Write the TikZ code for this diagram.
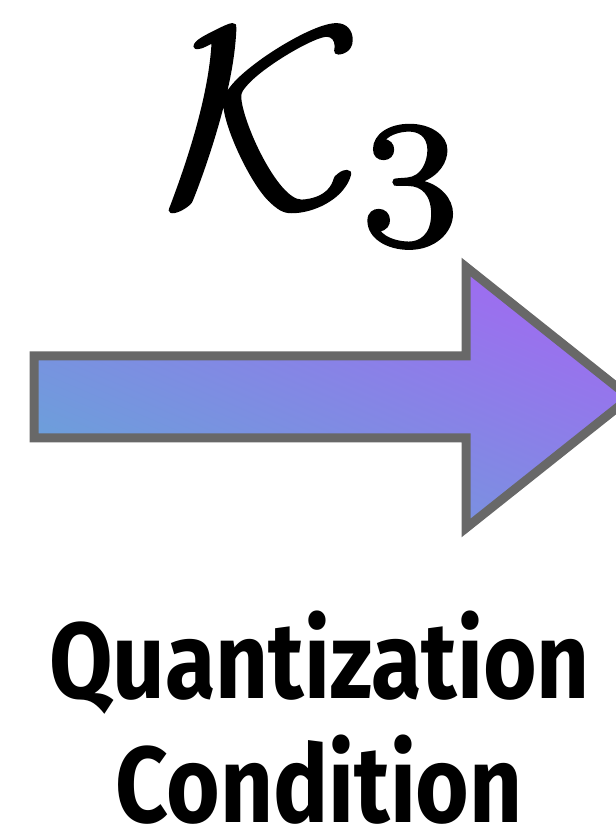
\documentclass[tikz,border=0pt]{standalone}
\usepackage{fontspec}
\setsansfont{Fira Sans}
\usepackage{tikz}
\definecolor{arrowgray}{RGB}{104,104,104}
\definecolor{leftblue}{RGB}{107,160,218}
\definecolor{rightviolet}{RGB}{158,108,240}
\pgfdeclareverticalshading{arrowshade}{100bp}{color(0bp)=(leftblue); color(40bp)=(leftblue); color(60bp)=(rightviolet); color(100bp)=(rightviolet)}
\newcommand{\labelfont}{\fontsize{108}{120}\selectfont\sffamily\bfseries}
\newcommand{\arrowpath}{(SB)--(SL)--(466,475)--(HT)--(T)--(HB)--(466,393)--cycle}
\newlength{\qwidth}
\settowidth{\qwidth}{\labelfont Quantization}
\tikzset{label text/.style={font=\labelfont,anchor=base,inner sep=0pt}}
\begin{document}
\begin{tikzpicture}[x=1pt,y=1pt,line join=miter]
  \pgfmathsetmacro{\qscale}{541/\qwidth}
  \useasboundingbox (0,0) rectangle (616,831);
  \clip (0,0) rectangle (616,831);
  % arrow outline
  \coordinate (SL) at (34,475); \coordinate (SB) at (34,393);
  \coordinate (HT) at (466,564); \coordinate (HB) at (466,303);
  \coordinate (T) at (630,433.5);
  \begin{scope}
    \clip \arrowpath;
    \shade[shading=arrowshade,shading angle=-23] (-87.5,25.5) rectangle (747.5,860.5);
  \end{scope}
  \draw[arrowgray,line width=9pt] \arrowpath;
  \node[scale=25.8] (K) at (318.5,693.5)
    {\special{pdf:literal direct 2 Tr 0.1 w}$\mathcal{K}_3$\special{pdf:literal direct 0 Tr}};
  \node[label text,xscale=\qscale] (Q1) at (319.5,132) {Quantization};
  \node[label text,xscale=\qscale] (Q2) at (319,9) {Condition};
\end{tikzpicture}
\end{document}
